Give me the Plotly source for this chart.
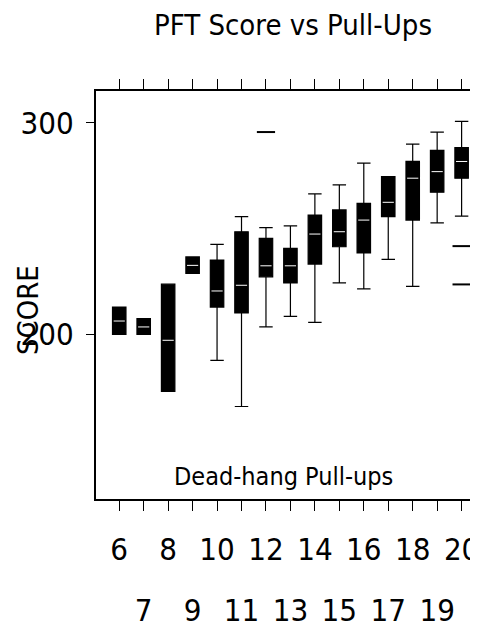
import plotly.graph_objects as go

# pull-up counts and box statistics (PFT score)
pullups = [6, 7, 8, 9, 10, 11, 12, 13, 14, 15, 16, 17, 18, 19, 20]
low = [200.0, 200.0, 173.1, 228.8, 187.7, 165.9, 203.5, 208.5, 205.7, 224.3, 221.5, 235.4, 222.7, 252.7, 255.9]
q1 = [200.0, 200.0, 173.1, 228.8, 212.9, 210.1, 227.2, 224.3, 233.2, 241.4, 238.5, 255.6, 254.0, 267.2, 273.8]
med = [206.3, 203.5, 197.2, 232.6, 220.5, 223.2, 232.4, 232.4, 247.4, 248.5, 254.0, 262.4, 273.8, 276.9, 281.7]
q3 = [212.9, 207.4, 223.7, 236.6, 235.1, 248.5, 245.4, 240.6, 256.4, 258.8, 261.9, 274.5, 281.7, 286.9, 288.3]
high = [212.9, 207.4, 223.7, 236.6, 242.5, 255.6, 250.4, 251.3, 266.4, 270.6, 280.9, 274.5, 289.9, 295.6, 300.6]

# outliers
out_x = [12, 20, 20]
out_y = [295.6, 241.7, 223.6]

even_ticks = [6, 8, 10, 12, 14, 16, 18, 20]
odd_ticks = [7, 9, 11, 13, 15, 17, 19]

NARROW = "DejaVu Sans Condensed, Liberation Sans Narrow, Arial Narrow, Liberation Sans, sans-serif"

fig = go.Figure()

fig.add_trace(go.Box(
    x=pullups, q1=q1, median=med, q3=q3, lowerfence=low, upperfence=high,
    fillcolor="black", line=dict(color="black", width=1.2),
    width=0.55, whiskerwidth=1, boxpoints=False, showlegend=False,
))

# white median ticks inside the black boxes
fig.add_trace(go.Scatter(
    x=pullups, y=med, mode="markers", showlegend=False, hoverinfo="skip",
    marker=dict(symbol="line-ew", size=8, line=dict(color="white", width=1)),
))

fig.add_trace(go.Scatter(
    x=out_x, y=out_y, mode="markers", showlegend=False,
    marker=dict(symbol="line-ew", size=13, line=dict(color="black", width=2)),
))

# empty trace so the second (odd-label) x axis gets drawn
fig.add_trace(go.Scatter(
    x=odd_ticks, y=[None] * len(odd_ticks), xaxis="x2", mode="markers",
    showlegend=False, hoverinfo="skip",
))

# page body has an 8px margin, so the figure is 8px smaller than the window
fig.update_layout(
    width=470, height=620,
    margin=dict(l=88, r=0, t=83, b=129),
    paper_bgcolor="white", plot_bgcolor="white",
    title=dict(text="PFT Score vs Pull-Ups", x=285 / 470, xanchor="center",
               y=1 - 17 / 620, yanchor="middle",
               font=dict(family=NARROW, size=29, color="black")),
    xaxis=dict(
        range=[5.05, 20.67], showgrid=False, zeroline=False,
        showline=True, linecolor="black", linewidth=2, mirror="ticks",
        tickvals=pullups,
        ticktext=[str(v) if v in even_ticks else "" for v in pullups],
        ticks="outside", ticklen=10, tickwidth=1, tickcolor="black",
        tickfont=dict(family=NARROW, size=31, color="black"),
        ticklabelstandoff=12, ticklabeloverflow="allow",
    ),
    xaxis2=dict(
        overlaying="x", side="bottom", range=[5.05, 20.67],
        showgrid=False, zeroline=False, showline=False,
        tickvals=odd_ticks, ticktext=[str(v) for v in odd_ticks],
        ticks="", tickfont=dict(family=NARROW, size=31, color="black"),
        ticklabelstandoff=90,
    ),
    yaxis=dict(
        range=[122.2, 315.0], showgrid=False, zeroline=False,
        showline=True, linecolor="black", linewidth=2,
        tickvals=[200, 300], ticks="outside", ticklen=8, tickwidth=1,
        tickcolor="black", ticklabelstandoff=6,
        tickfont=dict(family=NARROW, size=31, color="black"),
    ),
    annotations=[
        dict(text="SCORE", textangle=-90, xref="paper", yref="paper",
             x=-0.178, y=0.463, xanchor="center", yanchor="middle",
             showarrow=False,
             font=dict(family=NARROW, size=29, color="black")),
        dict(text="Dead-hang Pull-ups", xref="paper", yref="paper",
             x=0.49, y=0.056, xanchor="center", yanchor="middle",
             showarrow=False,
             font=dict(family=NARROW, size=25, color="black")),
    ],
)

fig.write_html("out.html")
